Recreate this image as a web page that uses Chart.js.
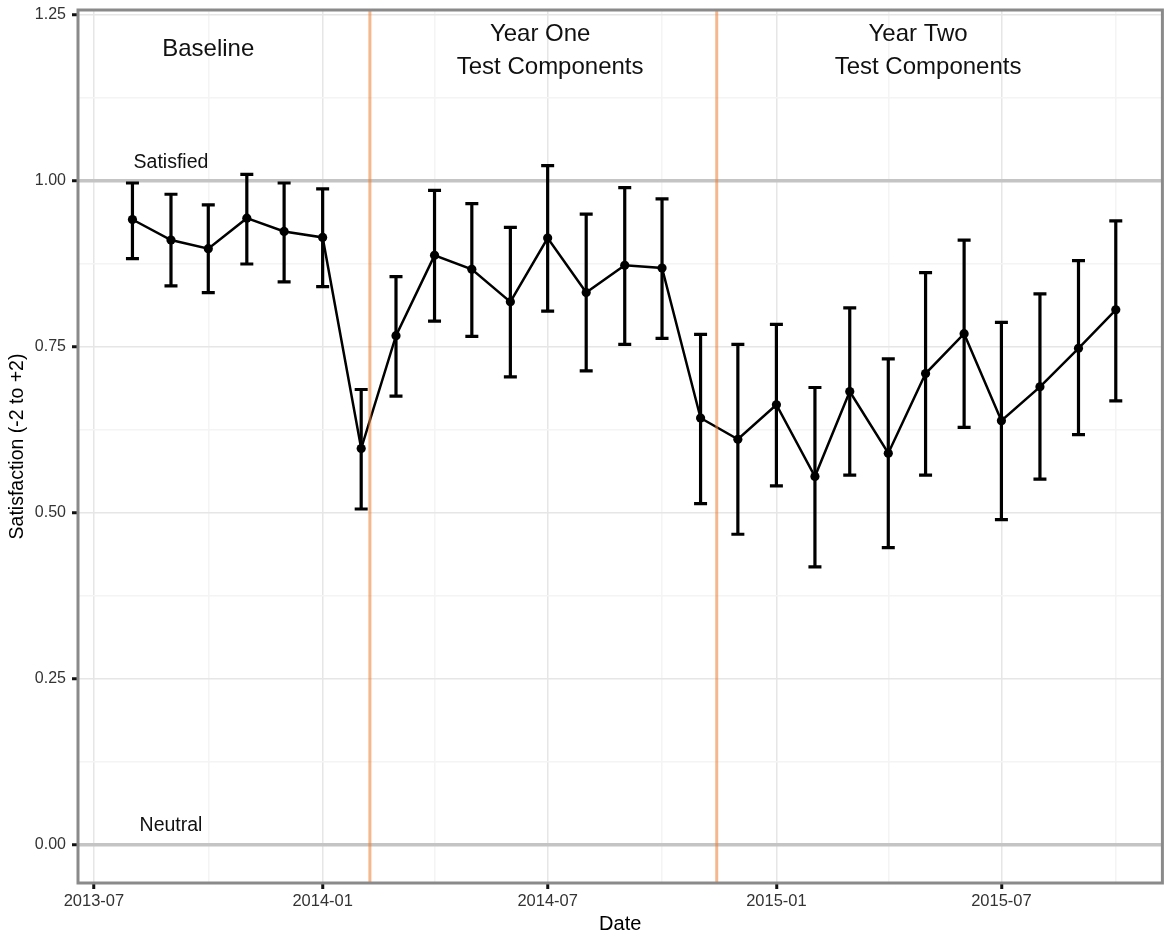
<!DOCTYPE html>
<html><head><meta charset="utf-8">
<script src="https://cdn.jsdelivr.net/npm/chart.js@4.4.1/dist/chart.umd.min.js"></script>
<style>html,body{margin:0;padding:0;background:#fff}canvas{display:block}</style>
</head><body>
<canvas id="c" width="1167" height="934" style="width:1167px;height:934px"></canvas>
<script>
// ---- data ----
const months = ['2013-08-01','2013-09-01','2013-10-01','2013-11-01','2013-12-01','2014-01-01','2014-02-01','2014-03-01','2014-04-01','2014-05-01','2014-06-01','2014-07-01','2014-08-01','2014-09-01','2014-10-01','2014-11-01','2014-12-01','2015-01-01','2015-02-01','2015-03-01','2015-04-01','2015-05-01','2015-06-01','2015-07-01','2015-08-01','2015-09-01','2015-10-01'];
const meanSatisfaction = [0.942,0.911,0.898,0.944,0.924,0.915,0.597,0.767,0.888,0.867,0.818,0.914,0.832,0.873,0.869,0.643,0.611,0.663,0.555,0.683,0.590,0.710,0.770,0.639,0.690,0.748,0.806];
const upperCI = [0.997,0.980,0.964,1.010,0.997,0.988,0.686,0.856,0.986,0.966,0.930,1.023,0.950,0.990,0.973,0.769,0.754,0.784,0.689,0.809,0.732,0.862,0.911,0.787,0.830,0.880,0.940];
const lowerCI = [0.883,0.842,0.832,0.875,0.848,0.841,0.506,0.676,0.789,0.766,0.705,0.804,0.714,0.754,0.763,0.514,0.468,0.541,0.419,0.557,0.448,0.557,0.629,0.490,0.551,0.618,0.669];
const phaseBreaks = ['2014-02-08','2014-11-14'];
const majorTickDates = ['2013-07-01','2014-01-01','2014-07-01','2015-01-01','2015-07-01'];
const minorTickDates = ['2013-10-01','2014-04-01','2014-10-01','2015-04-01','2015-10-01'];
const yMajorTicks = [0,0.25,0.5,0.75,1,1.25];
const yMinorTicks = [0.125,0.375,0.625,0.875,1.125];
const referenceLevels = [0,1];
const phaseTitles = ['Baseline','Year One','Test Components','Year Two','Test Components'];
const phaseTitleDates = ['2013-10-01','2014-06-25','2014-07-03','2015-04-25','2015-05-03'];
const phaseTitleValues = [1.188,1.2108,1.1607,1.2108,1.1607];
const levelLabels = ['Satisfied','Neutral'];
const levelLabelDates = ['2013-09-01','2013-09-01'];
const levelLabelValues = [1.019,0.021];

// ---- helpers ----
const ORIGIN = Date.UTC(2013,6,1);
function dayOf(s){const p=s.split('-').map(Number);return (Date.UTC(p[0],p[1]-1,p[2])-ORIGIN)/864e5;}
function fmt(v){const d=new Date(ORIGIN+Math.round(v)*864e5);return d.getUTCFullYear()+'-'+String(d.getUTCMonth()+1).padStart(2,'0');}
const majorX = majorTickDates.map(dayOf);
const minorX = minorTickDates.map(dayOf);
const isMajorX = v => majorX.some(m=>Math.abs(m-v)<0.5);
const isMajorY = v => yMajorTicks.some(m=>Math.abs(m-v)<1e-6);
const isRefY = v => referenceLevels.some(m=>Math.abs(m-v)<1e-6);

const FONT = "'Liberation Sans', Arial, sans-serif";

const overlay = {
  id:'overlay',
  beforeDatasetsDraw(chart){
    const ctx=chart.ctx, xs=chart.scales.x, ys=chart.scales.y;
    ctx.save();
    ctx.strokeStyle='#000'; ctx.lineWidth=3.2; ctx.lineCap='butt';
    months.forEach((m,i)=>{
      const x=xs.getPixelForValue(dayOf(m));
      const yt=ys.getPixelForValue(upperCI[i]), yb=ys.getPixelForValue(lowerCI[i]);
      ctx.beginPath();
      ctx.moveTo(x,yt); ctx.lineTo(x,yb);
      ctx.moveTo(x-6.5,yt); ctx.lineTo(x+6.5,yt);
      ctx.moveTo(x-6.5,yb); ctx.lineTo(x+6.5,yb);
      ctx.stroke();
    });
    ctx.restore();
  },
  afterDatasetsDraw(chart){
    const ctx=chart.ctx, xs=chart.scales.x, ys=chart.scales.y, a=chart.chartArea;
    ctx.save();
    ctx.strokeStyle='rgba(237,125,49,0.55)'; ctx.lineWidth=3;
    phaseBreaks.forEach(d=>{
      const x=xs.getPixelForValue(dayOf(d));
      ctx.beginPath(); ctx.moveTo(x,a.top); ctx.lineTo(x,a.bottom); ctx.stroke();
    });
    // panel border
    ctx.strokeStyle='#8a8a8a'; ctx.lineWidth=3;
    ctx.strokeRect(a.left,a.top,a.right-a.left,a.bottom-a.top);
    // texts
    ctx.fillStyle='#111'; ctx.textAlign='center'; ctx.textBaseline='alphabetic';
    ctx.font='24px '+FONT;
    phaseTitles.forEach((t,i)=>{
      ctx.fillText(t, xs.getPixelForValue(dayOf(phaseTitleDates[i])), ys.getPixelForValue(phaseTitleValues[i]));
    });
    ctx.font='19.5px '+FONT;
    levelLabels.forEach((t,i)=>{
      ctx.fillText(t, xs.getPixelForValue(dayOf(levelLabelDates[i])), ys.getPixelForValue(levelLabelValues[i]));
    });
    ctx.restore();
  }
};

new Chart(document.getElementById('c'), {
  type:'line',
  data:{datasets:[{
    data: months.map((m,i)=>({x:dayOf(m), y:meanSatisfaction[i]})),
    borderColor:'#000', borderWidth:2.5, tension:0,
    pointRadius:4.6, pointBackgroundColor:'#000', pointBorderWidth:0, pointHoverRadius:4.6
  }]},
  options:{
    responsive:false, animation:false, devicePixelRatio:1,
    layout:{padding:{top:10,right:-1,left:0,bottom:0}},
    plugins:{legend:{display:false},tooltip:{enabled:false}},
    scales:{
      x:{
        type:'linear', min:-12.8, max:859.5,
        afterBuildTicks(s){ s.ticks = majorX.concat(minorX).sort((a,b)=>a-b).map(v=>({value:v})); },
        afterFit(s){ s.height = 51; s.paddingLeft = 0; s.paddingRight = 0; },
        border:{display:false},
        grid:{
          color:c=> (c.tick && isMajorX(c.tick.value)) ? '#e6e6e6' : '#f4f4f4',
          lineWidth:1.5,
          tickColor:c=> (c.tick && isMajorX(c.tick.value)) ? '#111' : 'rgba(0,0,0,0)',
          tickLength:6, tickWidth:3
        },
        ticks:{autoSkip:false, maxRotation:0, minRotation:0, padding:3, color:'#333',
          font:{family:FONT,size:16.5},
          callback:v=> isMajorX(v) ? fmt(v) : ''},
        title:{display:true, text:'Date', color:'#000', font:{family:FONT,size:20,lineHeight:1}, padding:{top:0,bottom:0}}
      },
      y:{
        min:-0.0572, max:1.2575,
        afterBuildTicks(s){ s.ticks = yMajorTicks.concat(yMinorTicks).sort((a,b)=>a-b).map(v=>({value:v})); },
        afterFit(s){ s.width = 78; s.paddingTop = 0; s.paddingBottom = 0; },
        border:{display:false},
        grid:{
          color:c=> { const v=c.tick?c.tick.value:null; if(v===null) return '#f4f4f4'; if(isRefY(v)) return '#c4c4c4'; return isMajorY(v)?'#e6e6e6':'#f4f4f4'; },
          lineWidth:c=> (c.tick && isRefY(c.tick.value)) ? 3.5 : 1.5,
          tickColor:c=> (c.tick && isMajorY(c.tick.value)) ? '#111' : 'rgba(0,0,0,0)',
          tickLength:6, tickWidth:3
        },
        ticks:{autoSkip:false, padding:6, color:'#333', font:{family:FONT,size:16},
          callback:v=> isMajorY(v) ? v.toFixed(2) : ''},
        title:{display:true, text:'Satisfaction (-2 to +2)', color:'#000', font:{family:FONT,size:19.5,lineHeight:1.2}, padding:{top:6,bottom:0}}
      }
    }
  },
  plugins:[overlay]
});
</script>
</body></html>
